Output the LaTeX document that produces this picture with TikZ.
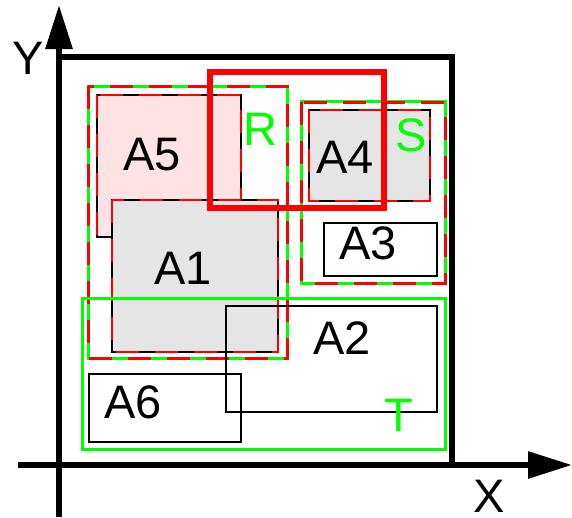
\documentclass[tikz,border=0pt]{standalone}
\usepackage{fontspec}
\setmainfont{Liberation Sans}
\usetikzlibrary{arrows.meta}
\definecolor{pg}{RGB}{0,255,0}
\definecolor{pr}{RGB}{255,0,0}
\definecolor{pinkfill}{RGB}{253,227,227}
\definecolor{grayfill}{RGB}{229,229,229}
\begin{document}
\begin{tikzpicture}[x=1pt,y=-1pt,
  lbl/.style={font=\fontsize{47}{47}\selectfont, inner sep=0pt, anchor=center},
  glbl/.style={lbl, text=pg},
  rgdash/.style={draw=pr, line width=3pt, dash pattern=on 23pt off 16pt},
  rbdash/.style={draw=pr, line width=2.5pt, dash pattern=on 23pt off 16pt},
  gsolid/.style={draw=pg, line width=3pt},
  bsolid/.style={draw=black, line width=2.5pt},
  axis/.style={line width=6pt, -{Triangle[length=44pt,width=26pt]}}
]
\useasboundingbox (0,0) rectangle (572,517);
% R group
\path[gsolid] (88,86) rectangle (287,358);
\path[rgdash] (88,86) rectangle (287,358);
% A5
\path[fill=pinkfill, bsolid] (97,95) rectangle (241,237);
\path[rbdash] (97,95) rectangle (241,237);
% A1
\path[fill=grayfill, bsolid] (112,200) rectangle (278,352);
\path[rbdash] (112,200) rectangle (278,352);
% S group
\path[gsolid] (301,101) rectangle (445,283);
\path[rgdash] (301,102) rectangle (445,283);
% A4
\path[fill=grayfill, bsolid] (309,110) rectangle (430,201);
\path[rbdash] (309,110) rectangle (430,201);
% A3
\path[fill=white, bsolid] (324,223) rectangle (437,276);
% T group
\path[gsolid] (82,298) rectangle (445,449);
% A2
\path[bsolid] (226,306) rectangle (437,412);
% A6
\path[bsolid] (89,374) rectangle (241,442);
% thick red rectangle
\path[draw=pr, line width=6pt] (210,72) rectangle (384,208);
% frame and axes
\path[draw=black, line width=6pt] (59,57) -- (452,57) -- (452,465);
\coordinate (yb) at (59,517);
\coordinate (yt) at (59,5);
\coordinate (xl) at (18,465);
\coordinate (xr) at (572,465);
\draw[axis] (yb) -- (yt);
\draw[axis] (xl) -- (xr);
% labels
\node[lbl] (lA5) at (152,155) {A5};
\node[lbl] (lA1) at (183,268) {A1};
\node[lbl] (lA4) at (345,157) {A4};
\node[lbl] (lA3) at (368,243) {A3};
\node[lbl] (lA2) at (342,338) {A2};
\node[lbl] (lA6) at (133,402) {A6};
\node[glbl] (lR) at (260,129) {R};
\node[glbl] (lS) at (411,135) {S};
\node[glbl] (lT) at (399,415) {T};
\node[lbl] (lY) at (28,58) {Y};
\node[lbl] (lX) at (489,496) {X};
\end{tikzpicture}
\end{document}
